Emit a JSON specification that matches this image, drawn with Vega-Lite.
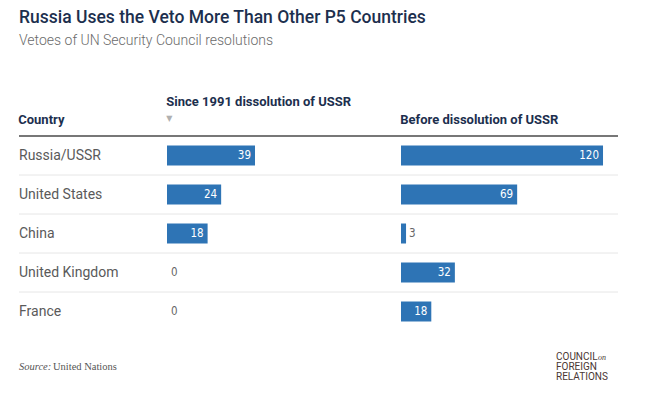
{
  "$schema": "https://vega.github.io/schema/vega-lite/v6.json",
  "padding": {"left": 18, "top": 8, "right": 29, "bottom": 0},
  "background": "white",
  "title": {
    "text": "Russia Uses the Veto More Than Other P5 Countries",
    "subtitle": "Vetoes of UN Security Council resolutions",
    "anchor": "start",
    "font": "Roboto",
    "fontSize": 17.5,
    "fontWeight": 500,
    "color": "#1c2f4e",
    "subtitleFont": "Roboto",
    "subtitleFontSize": 14,
    "subtitleFontWeight": 300,
    "subtitleColor": "#6b6b6b",
    "subtitlePadding": 8,
    "offset": 48,
    "frame": "group"
  },
  "datasets": {
    "vetoes": [
      {"country": "Russia/USSR", "since": 39, "before": 120},
      {"country": "United States", "since": 24, "before": 69},
      {"country": "China", "since": 18, "before": 3},
      {"country": "United Kingdom", "since": 0, "before": 32},
      {"country": "France", "since": 0, "before": 18}
    ]
  },
  "vconcat": [
    {
      "hconcat": [
        {
          "width": 148,
          "height": 195,
          "title": {"text": "Country", "anchor": "start", "font": "Roboto", "fontSize": 13, "fontWeight": "bold", "color": "#1c2f4e", "offset": 8},
          "data": {"name": "vetoes"},
          "layer": [
            {
              "transform": [{"filter": "datum.country != 'Russia/USSR'"}],
              "mark": {"type": "rule", "color": "#e6e6e6", "strokeWidth": 1},
              "encoding": {"y": {"field": "country", "type": "nominal", "bandPosition": 0, "scale": {"domain": ["Russia/USSR", "United States", "China", "United Kingdom", "France"], "paddingInner": 0, "paddingOuter": 0}, "axis": null}}
            },
            {
              "transform": [{"filter": "datum.country == 'Russia/USSR'"}],
              "mark": {"type": "rule", "color": "#4a4a4a", "strokeWidth": 1.5},
              "encoding": {"y": {"field": "country", "type": "nominal", "bandPosition": 0, "axis": null}}
            },
            {
              "mark": {"type": "text", "align": "left", "baseline": "middle", "font": "Roboto", "fontSize": 14, "color": "#5a5a5a"},
              "encoding": {
                "x": {"datum": 0, "type": "quantitative", "scale": {"domain": [0, 1]}, "axis": null},
                "y": {"field": "country", "type": "nominal", "axis": null},
                "text": {"field": "country"}
              }
            }
          ]
        },
        {
          "width": 234,
          "height": 195,
          "title": {"text": "Since 1991 dissolution of USSR", "subtitle": "  ▼", "anchor": "start", "font": "Roboto", "fontSize": 13, "fontWeight": "bold", "color": "#1c2f4e", "subtitleFont": "DejaVu Sans", "subtitleFontSize": 8, "subtitleColor": "#b0b0b0", "subtitlePadding": 6, "offset": 12},
          "data": {"name": "vetoes"},
          "layer": [
            {
              "transform": [{"filter": "datum.country != 'Russia/USSR'"}],
              "mark": {"type": "rule", "color": "#e6e6e6", "strokeWidth": 1},
              "encoding": {"y": {"field": "country", "type": "nominal", "bandPosition": 0, "scale": {"domain": ["Russia/USSR", "United States", "China", "United Kingdom", "France"], "paddingInner": 0, "paddingOuter": 0}, "axis": null}}
            },
            {
              "transform": [{"filter": "datum.country == 'Russia/USSR'"}],
              "mark": {"type": "rule", "color": "#4a4a4a", "strokeWidth": 1.5},
              "encoding": {"y": {"field": "country", "type": "nominal", "bandPosition": 0, "axis": null}}
            },
            {
              "mark": {"type": "bar", "height": 20, "color": "#2e74b5"},
              "encoding": {
                "x": {"field": "since", "type": "quantitative", "scale": {"domain": [0, 103.7], "nice": false, "zero": true}, "axis": null},
                "y": {"field": "country", "type": "nominal", "axis": null}
              }
            },
            {
              "transform": [{"filter": "datum.since >= 10"}],
              "mark": {"type": "text", "align": "right", "baseline": "middle", "dx": -4, "font": "'Liberation Sans Narrow', 'DejaVu Sans Condensed', 'Roboto Condensed', Roboto, sans-serif", "fontSize": 11.5, "color": "white"},
              "encoding": {
                "x": {"field": "since", "type": "quantitative"},
                "y": {"field": "country", "type": "nominal"},
                "text": {"field": "since"}
              }
            },
            {
              "transform": [{"filter": "datum.since < 10"}],
              "mark": {"type": "text", "align": "left", "baseline": "middle", "dx": 4, "font": "'Liberation Sans Narrow', 'DejaVu Sans Condensed', 'Roboto Condensed', Roboto, sans-serif", "fontSize": 11.5, "color": "#666666"},
              "encoding": {
                "x": {"field": "since", "type": "quantitative"},
                "y": {"field": "country", "type": "nominal"},
                "text": {"field": "since"}
              }
            }
          ]
        },
        {
          "width": 217,
          "height": 195,
          "title": {"text": "Before dissolution of USSR", "anchor": "start", "font": "Roboto", "fontSize": 13, "fontWeight": "bold", "color": "#1c2f4e", "offset": 8},
          "data": {"name": "vetoes"},
          "layer": [
            {
              "transform": [{"filter": "datum.country != 'Russia/USSR'"}],
              "mark": {"type": "rule", "color": "#e6e6e6", "strokeWidth": 1},
              "encoding": {"y": {"field": "country", "type": "nominal", "bandPosition": 0, "scale": {"domain": ["Russia/USSR", "United States", "China", "United Kingdom", "France"], "paddingInner": 0, "paddingOuter": 0}, "axis": null}}
            },
            {
              "transform": [{"filter": "datum.country == 'Russia/USSR'"}],
              "mark": {"type": "rule", "color": "#4a4a4a", "strokeWidth": 1.5},
              "encoding": {"y": {"field": "country", "type": "nominal", "bandPosition": 0, "axis": null}}
            },
            {
              "mark": {"type": "bar", "height": 20, "color": "#2e74b5"},
              "encoding": {
                "x": {"field": "before", "type": "quantitative", "scale": {"domain": [0, 128.9], "nice": false, "zero": true}, "axis": null},
                "y": {"field": "country", "type": "nominal", "axis": null}
              }
            },
            {
              "transform": [{"filter": "datum.before >= 10"}],
              "mark": {"type": "text", "align": "right", "baseline": "middle", "dx": -4, "font": "'Liberation Sans Narrow', 'DejaVu Sans Condensed', 'Roboto Condensed', Roboto, sans-serif", "fontSize": 11.5, "color": "white"},
              "encoding": {
                "x": {"field": "before", "type": "quantitative"},
                "y": {"field": "country", "type": "nominal"},
                "text": {"field": "before"}
              }
            },
            {
              "transform": [{"filter": "datum.before < 10"}],
              "mark": {"type": "text", "align": "left", "baseline": "middle", "dx": 3, "font": "'Liberation Sans Narrow', 'DejaVu Sans Condensed', 'Roboto Condensed', Roboto, sans-serif", "fontSize": 11.5, "color": "#666666"},
              "encoding": {
                "x": {"field": "before", "type": "quantitative"},
                "y": {"field": "country", "type": "nominal"},
                "text": {"field": "before"}
              }
            }
          ]
        }
      ],
      "spacing": 0,
      "bounds": "flush"
    },
    {
      "width": 599,
      "height": 40,
      "layer": [
        {
          "data": {"values": [{"label": "Source:", "side": "left"}]},
          "mark": {"type": "text", "align": "left", "baseline": "middle", "font": "Liberation Serif", "fontStyle": "italic", "fontSize": 10.5, "color": "#555555"},
          "encoding": {
            "x": {"field": "side", "type": "nominal", "scale": {"type": "point", "domain": ["left", "right"], "padding": 0}, "axis": null},
            "text": {"field": "label"}
          }
        },
        {
          "data": {"values": [{"label": "United Nations", "side": "left"}]},
          "mark": {"type": "text", "align": "left", "baseline": "middle", "dx": 34, "font": "Liberation Serif", "fontSize": 10.5, "color": "#555555"},
          "encoding": {
            "x": {"field": "side", "type": "nominal", "axis": null},
            "text": {"field": "label"}
          }
        },
        {
          "data": {"values": [{"label": ["COUNCIL", "FOREIGN", "RELATIONS"], "side": "right"}]},
          "mark": {"type": "text", "align": "left", "baseline": "middle", "dx": -62, "dy": -10, "lineHeight": 10, "font": "Roboto", "fontWeight": "normal", "fontSize": 10, "color": "#4a3733"},
          "encoding": {
            "x": {"field": "side", "type": "nominal", "axis": null},
            "text": {"field": "label"}
          }
        },
        {
          "data": {"values": [{"label": "on", "side": "right"}]},
          "mark": {"type": "text", "align": "left", "baseline": "middle", "dx": -20, "dy": -9, "font": "Liberation Serif", "fontStyle": "italic", "fontSize": 8, "color": "#4a3733"},
          "encoding": {
            "x": {"field": "side", "type": "nominal", "axis": null},
            "text": {"field": "label"}
          }
        }
      ]
    }
  ],
  "spacing": 16,
  "config": {"view": {"stroke": null}}
}
